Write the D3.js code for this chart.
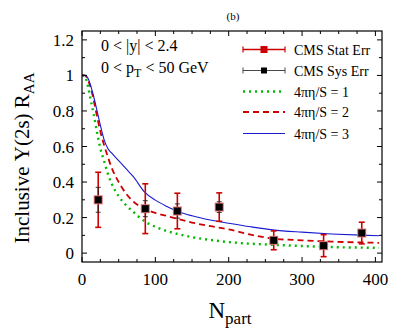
<!DOCTYPE html>
<html>
<head>
<meta charset="utf-8">
<script src="https://cdn.jsdelivr.net/npm/d3@7"></script>
<style>
  body { margin: 0; background: #fff; }
  text { font-family: "Liberation Serif", "DejaVu Serif", serif; }
</style>
</head>
<body>
<svg width="407" height="336"></svg>
<script>
// CMS points
const npart = [22.1, 86.3, 130.0, 187.1, 261.4, 329.4, 381.4];
const raa = [0.30, 0.25, 0.237, 0.259, 0.072, 0.042, 0.113];
const statErr = [0.155, 0.14, 0.10, 0.08, 0.053, 0.062, 0.061];
const sysErr = [0.07, 0.045, 0.04, 0.03, 0.018, 0.015, 0.018];

// model curves, 4 pi eta/s = 1, 2, 3
const curveN = [0, 4, 8, 12, 16, 20, 25, 30, 35, 40, 50, 60, 70, 85, 100, 115, 130, 150, 175, 200, 230, 260, 300, 340, 380, 405];
const eta1 = [1.0, 0.995, 0.94, 0.86, 0.78, 0.69, 0.59, 0.52, 0.45, 0.395, 0.32, 0.27, 0.232, 0.18, 0.148, 0.125, 0.108, 0.09, 0.074, 0.062, 0.053, 0.047, 0.04, 0.034, 0.031, 0.03];
const eta2 = [1.0, 1.0, 0.975, 0.93, 0.86, 0.78, 0.685, 0.61, 0.545, 0.485, 0.40, 0.335, 0.29, 0.25, 0.226, 0.21, 0.193, 0.172, 0.152, 0.134, 0.104, 0.082, 0.072, 0.065, 0.06, 0.058];
const eta3 = [1.0, 1.0, 0.985, 0.94, 0.88, 0.81, 0.72, 0.64, 0.59, 0.565, 0.52, 0.475, 0.43, 0.345, 0.298, 0.264, 0.236, 0.21, 0.186, 0.168, 0.148, 0.131, 0.118, 0.108, 0.101, 0.098];

const xTicks = [0, 100, 200, 300, 400];
const yTicks = [0, 0.2, 0.4, 0.6, 0.8, 1, 1.2];

const margin = {left: 82, right: 25, top: 31, bottom: 74};
const W = 407, H = 336;
const svg = d3.select("svg");

const x = d3.scaleLinear().domain([0, 409]).range([margin.left, W - margin.right]);
const y = d3.scaleLinear().domain([-0.05, 1.25]).range([H - margin.bottom, margin.top]);

const red = "#cc0000", green = "#00bb00", blue = "#1a1ad0";

// clip for curves
svg.append("clipPath").attr("id", "clip")
  .append("rect")
  .attr("x", x(0)).attr("y", y(1.25))
  .attr("width", x(409) - x(0)).attr("height", y(-0.05) - y(1.25));

const line = d3.line().curve(d3.curveMonotoneX)
  .x(d => x(d[0])).y(d => y(d[1]));

const curves = [
  {vals: eta1, color: green, dash: "2,4", width: 2.4},
  {vals: eta2, color: red, dash: "6,4", width: 1.8},
  {vals: eta3, color: blue, dash: null, width: 1.1}
];
const cg = svg.append("g").attr("clip-path", "url(#clip)");
curves.forEach(c => {
  cg.append("path")
    .attr("d", line(curveN.map((n, i) => [n, c.vals[i]])))
    .attr("fill", "none")
    .attr("stroke", c.color)
    .attr("stroke-width", c.width)
    .attr("stroke-dasharray", c.dash);
});

// error bars
const pts = npart.map((n, i) => ({n, r: raa[i], s: statErr[i], sy: sysErr[i]}));
const eg = svg.append("g");
function errBar(g, d, e, color, capW, sw) {
  g.append("line").attr("x1", x(d.n)).attr("x2", x(d.n))
    .attr("y1", y(d.r - e)).attr("y2", y(d.r + e))
    .attr("stroke", color).attr("stroke-width", sw);
  [d.r - e, d.r + e].forEach(v => {
    g.append("line").attr("x1", x(d.n) - capW).attr("x2", x(d.n) + capW)
      .attr("y1", y(v)).attr("y2", y(v))
      .attr("stroke", color).attr("stroke-width", sw);
  });
}
pts.forEach(d => errBar(eg, d, d.s, red, 3, 1.6));
pts.forEach(d => errBar(eg, d, d.sy, "#222", 2.5, 0.9));
eg.selectAll("rect.red").data(pts).enter().append("rect")
  .attr("x", d => x(d.n) - 4.5).attr("y", d => y(d.r) - 4.5)
  .attr("width", 9).attr("height", 9).attr("fill", "#e07070");
eg.selectAll("rect.blk").data(pts).enter().append("rect")
  .attr("x", d => x(d.n) - 3.5).attr("y", d => y(d.r) - 3.5)
  .attr("width", 7).attr("height", 7).attr("fill", "#000");

// frame and ticks
const fg = svg.append("g").attr("stroke", "#000").attr("fill", "none");
fg.append("rect").attr("x", x(0)).attr("y", y(1.25))
  .attr("width", x(409) - x(0)).attr("height", y(-0.05) - y(1.25))
  .attr("stroke-width", 1.2);
d3.range(0, 409, 25).forEach(v => {
  const len = v % 100 === 0 ? 5 : 3;
  fg.append("line").attr("x1", x(v)).attr("x2", x(v)).attr("y1", y(-0.05)).attr("y2", y(-0.05) - len);
  fg.append("line").attr("x1", x(v)).attr("x2", x(v)).attr("y1", y(1.25)).attr("y2", y(1.25) + len);
});
d3.range(0, 13).map(i => i / 10).forEach((v, i) => {
  const len = i % 2 === 0 ? 5 : 3;
  fg.append("line").attr("y1", y(v)).attr("y2", y(v)).attr("x1", x(0)).attr("x2", x(0) + len);
  fg.append("line").attr("y1", y(v)).attr("y2", y(v)).attr("x1", x(409)).attr("x2", x(409) - len);
});

// tick labels
svg.append("g").selectAll("text").data(xTicks).enter().append("text")
  .attr("x", d => x(d)).attr("y", y(-0.05) + 23)
  .attr("text-anchor", "middle").attr("font-size", 17).text(d => d);
svg.append("g").selectAll("text").data(yTicks).enter().append("text")
  .attr("x", x(0) - 8).attr("y", d => y(d) + 6)
  .attr("text-anchor", "end").attr("font-size", 17).text(d => d);

// axis titles
svg.append("text").attr("x", 233).attr("y", 20).attr("text-anchor", "middle")
  .attr("font-size", 11).text("(b)");
const xl = svg.append("text").attr("x", 230).attr("y", 318).attr("text-anchor", "middle").attr("font-size", 23);
xl.append("tspan").text("N");
xl.append("tspan").attr("font-size", 17).attr("dy", 6).text("part");
const yl = svg.append("text").attr("transform", `translate(29,${158}) rotate(-90)`)
  .attr("text-anchor", "middle").attr("font-size", 21);
yl.append("tspan").text("Inclusive Υ(2s) R");
yl.append("tspan").attr("font-size", 15).attr("dy", 5).text("AA");

// annotations
svg.append("text").attr("x", 101).attr("y", 51).attr("font-size", 16).text("0 < |y| < 2.4");
const pt = svg.append("text").attr("x", 101).attr("y", 73).attr("font-size", 16);
pt.append("tspan").text("0 < p");
pt.append("tspan").attr("font-size", 12).attr("dy", 4).text("T");
pt.append("tspan").attr("dy", -4).text(" < 50 GeV");

// legend
const legY = [49.5, 70.5, 91.5, 112, 133.5];
const legLabels = ["CMS Stat Err", "CMS Sys Err", "4πη/S = 1", "4πη/S = 2", "4πη/S = 3"];
const lx0 = 243, lx1 = 285;
const lg = svg.append("g");
lg.append("line").attr("x1", lx0).attr("x2", lx1).attr("y1", legY[0]).attr("y2", legY[0]).attr("stroke", red).attr("stroke-width", 1.6);
[lx0, lx1].forEach(v => lg.append("line").attr("x1", v).attr("x2", v).attr("y1", legY[0] - 3).attr("y2", legY[0] + 3).attr("stroke", red).attr("stroke-width", 1.2));
lg.append("rect").attr("x", 264 - 3.5).attr("y", legY[0] - 3.5).attr("width", 7).attr("height", 7).attr("fill", red);
lg.append("line").attr("x1", lx0).attr("x2", lx1).attr("y1", legY[1]).attr("y2", legY[1]).attr("stroke", "#333").attr("stroke-width", 0.9);
[lx0, lx1].forEach(v => lg.append("line").attr("x1", v).attr("x2", v).attr("y1", legY[1] - 3).attr("y2", legY[1] + 3).attr("stroke", "#333").attr("stroke-width", 0.9));
lg.append("rect").attr("x", 264 - 3).attr("y", legY[1] - 3).attr("width", 6).attr("height", 6).attr("fill", "#000");
curves.forEach((c, i) => {
  lg.append("line").attr("x1", lx0).attr("x2", lx1).attr("y1", legY[i + 2]).attr("y2", legY[i + 2])
    .attr("stroke", c.color).attr("stroke-width", c.width).attr("stroke-dasharray", c.dash);
});
lg.selectAll("text").data(legLabels).enter().append("text")
  .attr("x", 294).attr("y", (d, i) => legY[i] + 5).attr("font-size", 14).text(d => d);
</script>
</body>
</html>
